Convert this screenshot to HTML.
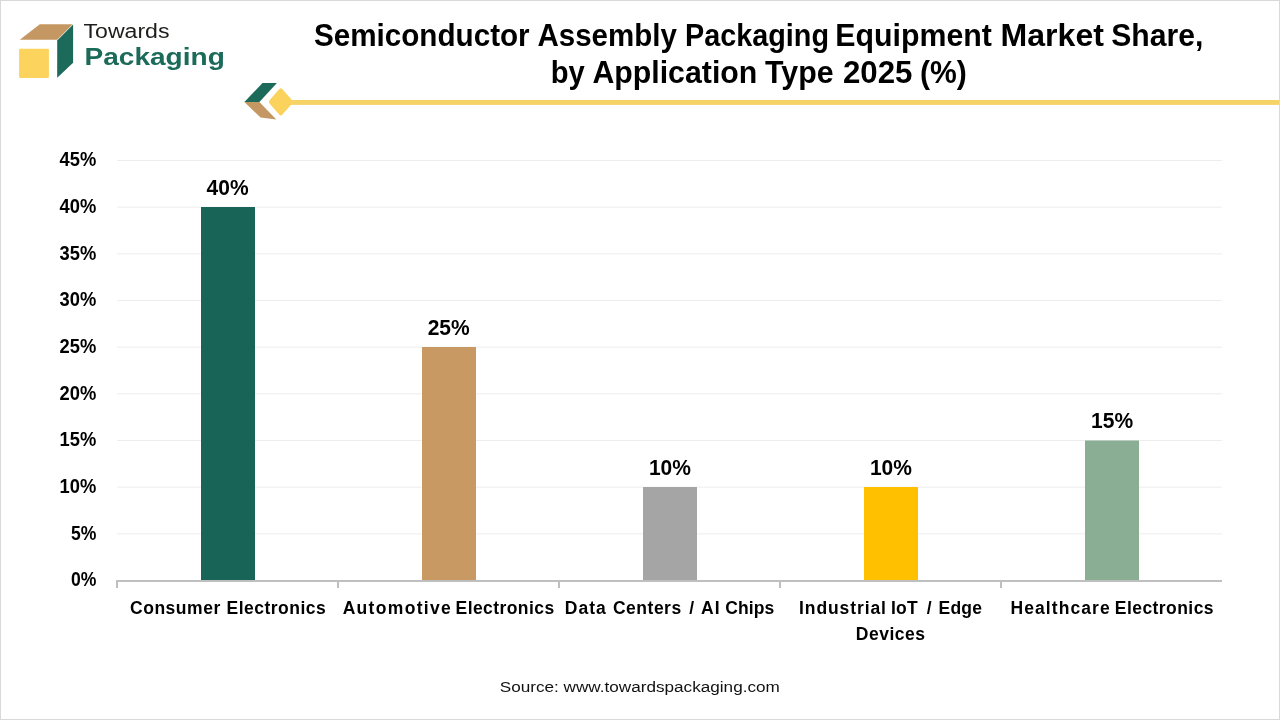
<!DOCTYPE html>
<html lang="en">
<head>
<meta charset="utf-8">
<title>Semiconductor Assembly Packaging Equipment Market Share, by Application Type 2025 (%)</title>
<style>
html,body{margin:0;padding:0;background:#fff;}
body{width:1280px;height:720px;overflow:hidden;position:relative;font-family:"Liberation Sans",sans-serif;}
svg{position:absolute;left:0;top:0;display:block;}
text{font-family:"Liberation Sans",sans-serif;}
.b{font-weight:bold;fill:#000;}
.frame{position:absolute;left:0;top:0;width:1278px;height:718px;border:1px solid #d9d9d9;}
</style>
</head>
<body>
<svg width="1280" height="720" viewBox="0 0 1280 720">
  <rect x="0" y="0" width="1280" height="720" fill="#ffffff"/>

  <!-- logo -->
  <g id="logo">
    <polygon points="39.8,24.2 72.6,24.2 57.2,39.8 19.8,39.8" fill="#c59762"/>
    <polygon points="73.1,24.4 73.1,62.8 57.2,77.8 57.2,40.5" fill="#1b6a5a"/>
    <rect x="19.1" y="48.7" width="29.8" height="29.3" rx="1" fill="#fcd35d"/>
    <text x="83.5" y="38.2" font-size="19.4" fill="#1d1d1b" textLength="86" lengthAdjust="spacingAndGlyphs">Towards</text>
    <text x="84.5" y="65.1" font-size="24.4" font-weight="bold" fill="#1b6a5a" textLength="140.3" lengthAdjust="spacingAndGlyphs">Packaging</text>
  </g>

  <!-- divider -->
  <g id="divider">
    <rect x="290" y="100" width="990" height="4.9" fill="#f6d365"/>
    <polygon points="262.5,83.1 276.9,83.1 259.4,101.9 244.4,101.9" fill="#1b6a5a"/>
    <polygon points="244.4,101.9 259.4,101.9 276.3,119.6 260.6,117.6" fill="#c59762"/>
    <rect x="-9.3" y="-9.3" width="18.6" height="18.6" rx="2.4" fill="#fbd35c" transform="translate(280.8,101.9) scale(0.97,1.1) rotate(45)"/>
  </g>

  <!-- title -->
  <text class="b" y="45.5" font-size="32"><tspan x="313.89" textLength="215.77" lengthAdjust="spacingAndGlyphs">Semiconductor</tspan> <tspan x="537.46" textLength="139.35" lengthAdjust="spacingAndGlyphs">Assembly</tspan> <tspan x="685.09" textLength="143.94" lengthAdjust="spacingAndGlyphs">Packaging</tspan> <tspan x="835.31" textLength="156.57" lengthAdjust="spacingAndGlyphs">Equipment</tspan> <tspan x="1000.54" textLength="103.38" lengthAdjust="spacingAndGlyphs">Market</tspan> <tspan x="1111.21" textLength="92.16" lengthAdjust="spacingAndGlyphs">Share,</tspan></text>
  <text class="b" y="83.2" font-size="32"><tspan x="550.67" textLength="34.07" lengthAdjust="spacingAndGlyphs">by</tspan> <tspan x="592.42" textLength="164.92" lengthAdjust="spacingAndGlyphs">Application</tspan> <tspan x="765.05" textLength="68.55" lengthAdjust="spacingAndGlyphs">Type</tspan> <tspan x="842.94" textLength="69.49" lengthAdjust="spacingAndGlyphs">2025</tspan> <tspan x="919.89" textLength="46.85" lengthAdjust="spacingAndGlyphs">(%)</tspan></text>

  <!-- gridlines -->
  <g fill="#ededed">
    <rect x="117" y="160.00" width="1105" height="1"/>
    <rect x="117" y="206.67" width="1105" height="1"/>
    <rect x="117" y="253.33" width="1105" height="1"/>
    <rect x="117" y="300.00" width="1105" height="1"/>
    <rect x="117" y="346.67" width="1105" height="1"/>
    <rect x="117" y="393.33" width="1105" height="1"/>
    <rect x="117" y="440.00" width="1105" height="1"/>
    <rect x="117" y="486.67" width="1105" height="1"/>
    <rect x="117" y="533.33" width="1105" height="1"/>
  </g>

  <!-- bars -->
  <g>
    <rect x="201" y="207" width="54" height="373" fill="#186558"/>
    <rect x="422" y="347" width="54" height="233" fill="#c99964"/>
    <rect x="643" y="487" width="54" height="93" fill="#a5a5a5"/>
    <rect x="864" y="487" width="54" height="93" fill="#ffc000"/>
    <rect x="1085" y="440.5" width="54" height="139.5" fill="#89ae93"/>
  </g>

  <!-- axis -->
  <g shape-rendering="crispEdges" fill="#bfbfbf">
    <rect x="116" y="580" width="1106" height="2"/>
    <rect x="116" y="580" width="2" height="8"/>
    <rect x="337" y="580" width="2" height="8"/>
    <rect x="558" y="580" width="2" height="8"/>
    <rect x="779" y="580" width="2" height="8"/>
    <rect x="1000" y="580" width="2" height="8"/>
  </g>

  <!-- y labels -->
  <g class="b" font-size="19.5">
    <text x="59.6" y="166.4" textLength="36.7" lengthAdjust="spacingAndGlyphs">45%</text>
    <text x="59.6" y="213.1" textLength="36.7" lengthAdjust="spacingAndGlyphs">40%</text>
    <text x="59.6" y="259.7" textLength="36.7" lengthAdjust="spacingAndGlyphs">35%</text>
    <text x="59.6" y="306.4" textLength="36.7" lengthAdjust="spacingAndGlyphs">30%</text>
    <text x="59.6" y="353.1" textLength="36.7" lengthAdjust="spacingAndGlyphs">25%</text>
    <text x="59.6" y="399.7" textLength="36.7" lengthAdjust="spacingAndGlyphs">20%</text>
    <text x="59.6" y="446.4" textLength="36.7" lengthAdjust="spacingAndGlyphs">15%</text>
    <text x="59.6" y="493.1" textLength="36.7" lengthAdjust="spacingAndGlyphs">10%</text>
    <text x="70.9" y="539.7" textLength="25.4" lengthAdjust="spacingAndGlyphs">5%</text>
    <text x="70.9" y="586.4" textLength="25.4" lengthAdjust="spacingAndGlyphs">0%</text>
  </g>

  <!-- data labels -->
  <g class="b" font-size="21.8">
    <text x="206.6" y="195" textLength="42" lengthAdjust="spacingAndGlyphs">40%</text>
    <text x="427.7" y="335" textLength="42" lengthAdjust="spacingAndGlyphs">25%</text>
    <text x="648.9" y="475" textLength="42" lengthAdjust="spacingAndGlyphs">10%</text>
    <text x="869.9" y="475" textLength="42" lengthAdjust="spacingAndGlyphs">10%</text>
    <text x="1091.1" y="428.2" textLength="42" lengthAdjust="spacingAndGlyphs">15%</text>
  </g>

  <!-- category labels -->
  <g class="b" font-size="17.5">
    <text y="613.7"><tspan x="129.99" textLength="90.25" lengthAdjust="spacing">Consumer</tspan> <tspan x="226.59" textLength="99.07" lengthAdjust="spacing">Electronics</tspan></text>
    <text y="613.7"><tspan x="342.65" textLength="108.14" lengthAdjust="spacing">Automotive</tspan> <tspan x="455.59" textLength="98.53" lengthAdjust="spacing">Electronics</tspan></text>
    <text y="613.7"><tspan x="564.81" textLength="41.03" lengthAdjust="spacing">Data</tspan> <tspan x="612.97" textLength="68.19" lengthAdjust="spacing">Centers</tspan> <tspan x="689.13">/</tspan> <tspan x="700.91" textLength="18.63" lengthAdjust="spacing">AI</tspan> <tspan x="725.23" textLength="49.03" lengthAdjust="spacing">Chips</tspan></text>
    <text y="613.7"><tspan x="799.02" textLength="86.95" lengthAdjust="spacing">Industrial</tspan> <tspan x="891.12" textLength="26.51" lengthAdjust="spacing">IoT</tspan> <tspan x="926.85">/</tspan> <tspan x="938.56" textLength="43.43" lengthAdjust="spacing">Edge</tspan> <tspan x="855.81" y="639.9" textLength="69.15" lengthAdjust="spacing">Devices</tspan></text>
    <text y="613.7"><tspan x="1010.56" textLength="99.12" lengthAdjust="spacing">Healthcare</tspan> <tspan x="1114.81" textLength="98.78" lengthAdjust="spacing">Electronics</tspan></text>
  </g>

  <!-- source -->
  <text x="499.8" y="692" font-size="15.3" fill="#111" textLength="280" lengthAdjust="spacingAndGlyphs">Source: www.towardspackaging.com</text>
</svg>
<div class="frame"></div>
</body>
</html>
